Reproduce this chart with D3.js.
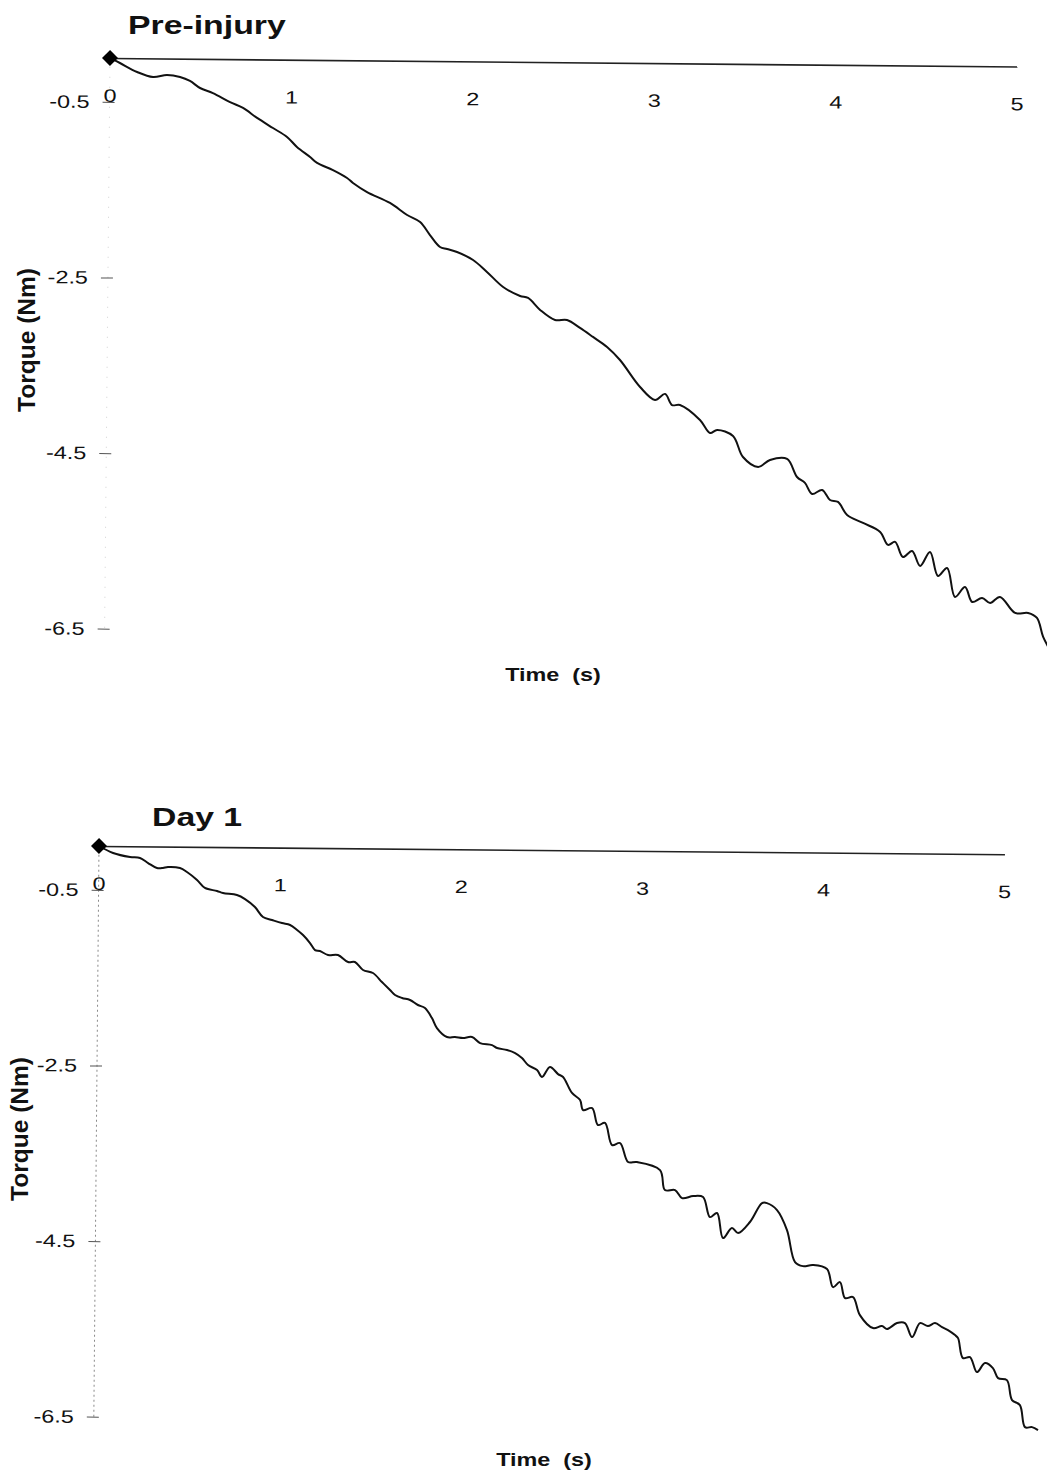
<!DOCTYPE html>
<html>
<head>
<meta charset="utf-8">
<script src="https://cdn.jsdelivr.net/npm/d3@7"></script>
<style>
  html, body { margin: 0; padding: 0; background: #fff; }
  svg { display: block; font-family: 'Liberation Sans', Arial, sans-serif; }
</style>
</head>
<body>
<div id="chart"></div>
<script>
// Torque traces
const preTime = [0, 0.055, 0.15, 0.238, 0.315, 0.387, 0.442, 0.498, 0.569, 0.664, 0.736, 0.814, 0.902, 0.98, 1.035, 1.108, 1.147, 1.235, 1.313, 1.346, 1.424, 1.551, 1.646, 1.718, 1.773, 1.829, 1.868, 1.923, 2.012, 2.089, 2.179, 2.273, 2.317, 2.384, 2.467, 2.533, 2.605, 2.677, 2.755, 2.827, 2.939, 3.022, 3.077, 3.116, 3.16, 3.271, 3.327, 3.366, 3.454, 3.51, 3.594, 3.659, 3.753, 3.809, 3.853, 3.893, 3.948, 3.992, 4.036, 4.087, 4.175, 4.27, 4.314, 4.353, 4.397, 4.447, 4.492, 4.546, 4.591, 4.641, 4.686, 4.741, 4.781, 4.835, 4.88, 4.934, 5.018, 5.09, 5.139, 5.174, 5.213];
const preTorque = [0, -0.056, -0.156, -0.212, -0.188, -0.209, -0.253, -0.332, -0.388, -0.489, -0.555, -0.667, -0.78, -0.88, -0.993, -1.106, -1.173, -1.252, -1.341, -1.397, -1.499, -1.621, -1.756, -1.835, -1.982, -2.117, -2.139, -2.172, -2.262, -2.396, -2.566, -2.666, -2.688, -2.823, -2.936, -2.935, -3.024, -3.125, -3.238, -3.385, -3.69, -3.836, -3.766, -3.892, -3.891, -4.059, -4.206, -4.171, -4.238, -4.476, -4.588, -4.507, -4.494, -4.698, -4.765, -4.89, -4.843, -4.957, -4.978, -5.125, -5.214, -5.315, -5.462, -5.427, -5.598, -5.528, -5.698, -5.538, -5.81, -5.718, -6.048, -5.933, -6.103, -6.056, -6.112, -6.042, -6.223, -6.222, -6.278, -6.493, -6.641];

const day1Time = [0, 0.078, 0.172, 0.227, 0.272, 0.321, 0.354, 0.382, 0.448, 0.487, 0.543, 0.587, 0.654, 0.687, 0.764, 0.809, 0.864, 0.909, 0.959, 1.014, 1.059, 1.098, 1.131, 1.17, 1.198, 1.225, 1.27, 1.325, 1.381, 1.419, 1.464, 1.519, 1.569, 1.614, 1.642, 1.681, 1.725, 1.769, 1.808, 1.847, 1.875, 1.931, 1.975, 2.019, 2.069, 2.114, 2.18, 2.208, 2.263, 2.308, 2.346, 2.38, 2.43, 2.458, 2.501, 2.546, 2.574, 2.624, 2.669, 2.686, 2.736, 2.769, 2.808, 2.848, 2.892, 2.937, 2.986, 3.114, 3.142, 3.198, 3.237, 3.298, 3.353, 3.392, 3.431, 3.465, 3.514, 3.548, 3.613, 3.679, 3.706, 3.762, 3.818, 3.864, 3.908, 3.963, 4.041, 4.075, 4.113, 4.142, 4.186, 4.225, 4.298, 4.347, 4.375, 4.43, 4.474, 4.514, 4.557, 4.601, 4.64, 4.679, 4.712, 4.751, 4.768, 4.796, 4.835, 4.874, 4.918, 4.962, 4.991, 5.04, 5.069, 5.113, 5.142, 5.181, 5.214];
const day1Torque = [0, -0.078, -0.122, -0.132, -0.189, -0.245, -0.244, -0.232, -0.243, -0.287, -0.377, -0.467, -0.5, -0.523, -0.544, -0.589, -0.679, -0.792, -0.825, -0.859, -0.88, -0.936, -0.993, -1.083, -1.163, -1.173, -1.218, -1.216, -1.296, -1.295, -1.385, -1.418, -1.52, -1.61, -1.666, -1.7, -1.722, -1.778, -1.812, -1.925, -2.039, -2.14, -2.139, -2.149, -2.137, -2.205, -2.227, -2.26, -2.281, -2.315, -2.371, -2.45, -2.507, -2.585, -2.47, -2.55, -2.583, -2.764, -2.844, -2.957, -2.934, -3.126, -3.102, -3.353, -3.329, -3.544, -3.544, -3.633, -3.86, -3.859, -3.95, -3.926, -3.936, -4.163, -4.116, -4.401, -4.286, -4.342, -4.215, -3.998, -3.998, -4.076, -4.303, -4.666, -4.712, -4.699, -4.743, -4.948, -4.89, -5.072, -5.059, -5.264, -5.41, -5.387, -5.42, -5.351, -5.35, -5.509, -5.349, -5.382, -5.347, -5.392, -5.426, -5.482, -5.516, -5.743, -5.731, -5.901, -5.797, -5.854, -5.967, -5.989, -6.216, -6.272, -6.523, -6.522, -6.555];

const xTicks = [0, 1, 2, 3, 4, 5];
const yTicks = [-0.5, -2.5, -4.5, -6.5];
const titles = ['Pre-injury', 'Day 1'];

const W = 1047, H = 1472;
const SX = 1.3;          // the scan is stretched horizontally, text follows it
const PX_PER_NM = 87.8;

const svg = d3.select('#chart').append('svg')
    .attr('width', W)
    .attr('height', H);

// layout of the two panels (scan is tilted by about half a degree)
const panels = [
    { title: titles[0], time: preTime, torque: preTorque,
      ox: 110, oy: 58, rot: 0.54, xLen: 907,
      titleX: 128, titleY: 34, xLabelX: 553, xLabelY: 681,
      yLabelX: 35, yLabelY: 340, axisColor: '#d0d0d0', axisDash: '1,9' },
    { title: titles[1], time: day1Time, torque: day1Torque,
      ox: 99, oy: 846, rot: 0.52, xLen: 905.5,
      titleX: 152, titleY: 826, xLabelX: 544, xLabelY: 1466,
      yLabelX: 28, yLabelY: 1129, axisColor: '#8a8a8a', axisDash: '2,3' }
];

panels.forEach(drawPanel);

function drawPanel(p) {
    const g = svg.append('g')
        .attr('transform', `translate(${p.ox},${p.oy}) rotate(${p.rot})`);

    const x = d3.scaleLinear().domain([0, 5]).range([0, p.xLen]);
    const y = d3.scaleLinear().domain([0, -6.5]).range([0, 6.5 * PX_PER_NM]);

    // dotted vertical axis line
    g.append('line')
        .attr('x1', 0).attr('x2', 0)
        .attr('y1', y(-0.1)).attr('y2', y(-6.5))
        .attr('stroke', p.axisColor)
        .attr('stroke-width', 1)
        .attr('stroke-dasharray', p.axisDash);

    // y axis ticks + labels
    const yAxis = g.append('g')
        .call(d3.axisLeft(y).tickValues(yTicks).tickSize(7).tickPadding(13)
            .tickFormat(d => d.toFixed(1)));
    yAxis.select('.domain').remove();
    yAxis.selectAll('.tick line')
        .attr('x1', 5).attr('x2', -7)
        .attr('stroke', '#555')
        .attr('stroke-width', 1);
    yAxis.selectAll('.tick text')
        .attr('x', -20 / SX)
        .attr('transform', `scale(${SX},1)`)
        .attr('font-size', 18)
        .attr('font-family', "'Liberation Sans', Arial, sans-serif")
        .attr('fill', '#111');

    // x axis along torque = 0
    const xAxis = g.append('g')
        .call(d3.axisBottom(x).tickValues(xTicks).tickSize(0).tickPadding(31)
            .tickFormat(d3.format('d')));
    xAxis.select('.domain')
        .attr('stroke', '#222')
        .attr('stroke-width', 1.6);
    xAxis.selectAll('.tick text')
        .attr('transform', `scale(${SX},1)`)
        .attr('font-size', 18)
        .attr('font-family', "'Liberation Sans', Arial, sans-serif")
        .attr('fill', '#111');

    // torque trace
    const pts = d3.zip(p.time, p.torque);
    g.append('path')
        .datum(pts)
        .attr('fill', 'none')
        .attr('stroke', '#111')
        .attr('stroke-width', 2)
        .attr('stroke-linejoin', 'round')
        .attr('d', d3.line().curve(d3.curveCatmullRom.alpha(0.5))
            .x(d => x(d[0])).y(d => y(d[1])));

    // start marker
    g.append('path')
        .attr('d', d3.symbol().type(d3.symbolSquare).size(128)())
        .attr('transform', `translate(${x(0)},${y(0)}) rotate(45)`)
        .attr('fill', '#000');

    // panel title
    svg.append('text')
        .attr('transform', `translate(${p.titleX},${p.titleY}) scale(${SX},1)`)
        .attr('font-size', 26)
        .attr('font-weight', 'bold')
        .attr('fill', '#111')
        .text(p.title);

    // axis titles
    svg.append('text')
        .attr('transform', `translate(${p.xLabelX},${p.xLabelY}) scale(${SX},1)`)
        .attr('text-anchor', 'middle')
        .attr('font-size', 18)
        .attr('font-weight', 'bold')
        .attr('fill', '#111')
        .style('white-space', 'pre')
        .text('Time  (s)');

    svg.append('text')
        .attr('transform', `translate(${p.yLabelX},${p.yLabelY}) rotate(-90)`)
        .attr('text-anchor', 'middle')
        .attr('font-size', 24)
        .attr('font-weight', 'bold')
        .attr('fill', '#111')
        .attr('textLength', 144)
        .attr('lengthAdjust', 'spacingAndGlyphs')
        .text('Torque (Nm)');
}
</script>
</body>
</html>
